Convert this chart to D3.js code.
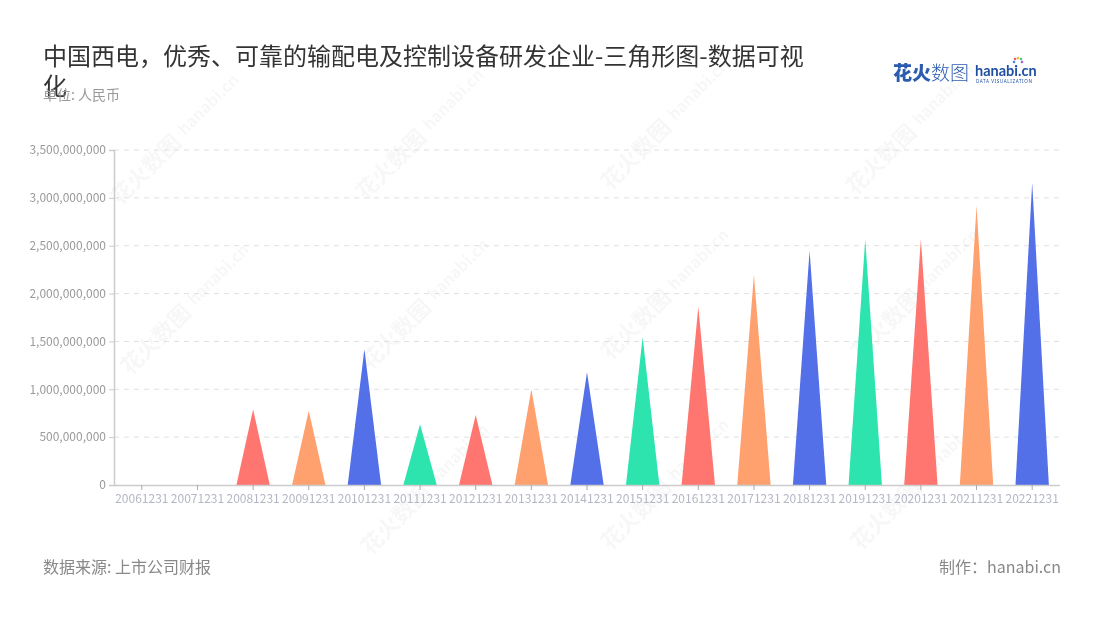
<!DOCTYPE html>
<html>
<head>
<meta charset="utf-8">
<script src="https://cdn.jsdelivr.net/npm/d3@7/dist/d3.min.js"></script>
<style>
  html, body { margin: 0; padding: 0; background: #fff; }
  svg { display: block; font-family: "Noto Sans CJK SC", "Noto Sans", sans-serif; }
</style>
</head>
<body>
<svg id="chart" width="1100" height="620"></svg>
<script>
// ---- data ----
const categories = ["20061231","20071231","20081231","20091231","20101231","20111231","20121231","20131231","20141231","20151231","20161231","20171231","20181231","20191231","20201231","20211231","20221231"];
const values = [0, 0, 790000000, 776000000, 1418000000, 634000000, 731000000, 1000000000, 1178000000, 1543000000, 1863000000, 2194000000, 2448000000, 2567000000, 2570000000, 2918000000, 3159000000];
const yTicks = [0, 500000000, 1000000000, 1500000000, 2000000000, 2500000000, 3000000000, 3500000000];
const palette = ["#5470e8", "#2de4af", "#ff7670", "#ffa06f"];
const titleLines = ["中国西电，优秀、可靠的输配电及控制设备研发企业-三角形图-数据可视", "化"];
const unitText = "单位: 人民币";
const sourceText = "数据来源: 上市公司财报";
const makerText = "制作：hanabi.cn";

// ---- layout ----
const svg = d3.select("#chart");
const m = { left: 114, right: 1060, top: 150, bottom: 485 };

// watermarks
const wm = svg.append("g").attr("fill", "#000").attr("opacity", 0.035);
const wmPos = [[150,165],[395,160],[640,150],[885,155],[160,335],[400,330],[640,320],[890,320],[400,515],[640,510],[890,510]];
wmPos.forEach(([x, y]) => {
  const g = wm.append("g").attr("transform", `translate(${x},${y}) rotate(-45)`);
  g.append("text").attr("x", -50).attr("y", 8).attr("font-size", 22).attr("font-weight", 700).text("花火数图");
  g.append("text").attr("x", 45).attr("y", 4).attr("font-size", 16).attr("font-weight", 700).text("hanabi.cn");
});

const x = d3.scaleBand().domain(categories).range([m.left, m.right]).paddingInner(0).paddingOuter(0);
const y = d3.scaleLinear().domain([0, 3500000000]).range([m.bottom, m.top]);

// grid
svg.append("g").selectAll("line").data(yTicks.filter(d => d > 0)).join("line")
  .attr("x1", m.left).attr("x2", m.right)
  .attr("y1", d => y(d)).attr("y2", d => y(d))
  .attr("stroke", "#e0e0e0").attr("stroke-dasharray", "5,5").attr("stroke-width", 1);

// y axis
const yAxis = svg.append("g").attr("transform", `translate(${m.left},0)`)
  .call(d3.axisLeft(y).tickValues(yTicks).tickFormat(d3.format(",")).tickSize(5).tickPadding(3));
yAxis.select(".domain").attr("stroke", "#cccccc").attr("stroke-width", 1.5);
yAxis.selectAll(".tick line").attr("stroke", "#cccccc");
yAxis.selectAll(".tick text").attr("fill", "#9a9a9a").attr("font-size", 12)
  .attr("font-family", "'Noto Sans CJK SC', 'Noto Sans', sans-serif");

// triangles
const bw = x.bandwidth() * 0.6;
svg.append("g").selectAll("path").data(categories).join("path")
  .attr("d", (c, i) => {
    const cx = x(c) + x.bandwidth() / 2;
    const y0 = y(0), y1 = y(values[i]);
    return `M${cx - bw / 2},${y0} L${cx},${y1} L${cx + bw / 2},${y0} Z`;
  })
  .attr("fill", (c, i) => palette[i % 4]);

// x axis
const xAxis = svg.append("g").attr("transform", `translate(0,${m.bottom})`)
  .call(d3.axisBottom(x).tickSize(5).tickPadding(4));
xAxis.select(".domain").attr("stroke", "#cccccc").attr("stroke-width", 1.5).attr("d", `M${m.left},0.5H${m.right}`);
xAxis.selectAll(".tick line").attr("stroke", "#aaaaaa");
xAxis.selectAll(".tick text").attr("fill", "#b4b7c4").attr("font-size", 12)
  .attr("font-family", "'Noto Sans CJK SC', 'Noto Sans', sans-serif");

// title
const t = svg.append("text").attr("x", 43).attr("y", 65).attr("font-size", 24).attr("fill", "#333");
titleLines.forEach((l, i) => t.append("tspan").attr("x", 43).attr("dy", i === 0 ? 0 : 30).text(l));
svg.append("text").attr("x", 43).attr("y", 100).attr("font-size", 14).attr("fill", "#999").text(unitText);

// logo
const logo = svg.append("g");
logo.append("text").attr("x", 893).attr("y", 80).attr("font-size", 19).attr("font-weight", 900).attr("fill", "#2c5cb0").text("花火");
logo.append("text").attr("x", 931).attr("y", 80).attr("font-size", 19).attr("font-weight", 300).attr("fill", "#2c5cb0").text("数图");
logo.append("text").attr("x", 975).attr("y", 76).attr("font-size", 14.5).attr("font-weight", 700).attr("fill", "#1f4fa3")
  .attr("font-family", "Lato, 'Noto Sans', sans-serif").text("hanabi.cn");
logo.append("text").attr("x", 976).attr("y", 82.5).attr("font-size", 4.6).attr("fill", "#1f4fa3").attr("letter-spacing", 0.6)
  .attr("font-family", "'Noto Sans', sans-serif").text("DATA VISUALIZATION");
const sp = [["#f25a5a",-3,-4],["#f7b731",0,-5],["#4cc38a",3,-4],["#3b8ee8",-4,-1],["#a45de8",4,-1]];
sp.forEach(([c, dx, dy]) => logo.append("circle").attr("cx", 1018 + dx).attr("cy", 63 + dy).attr("r", 1.3).attr("fill", c));

// footer
svg.append("text").attr("x", 43).attr("y", 573).attr("font-size", 16).attr("fill", "#888").text(sourceText);
svg.append("text").attr("x", 1061).attr("y", 573).attr("font-size", 16).attr("fill", "#888").attr("text-anchor", "end").text(makerText);
</script>
</body>
</html>
